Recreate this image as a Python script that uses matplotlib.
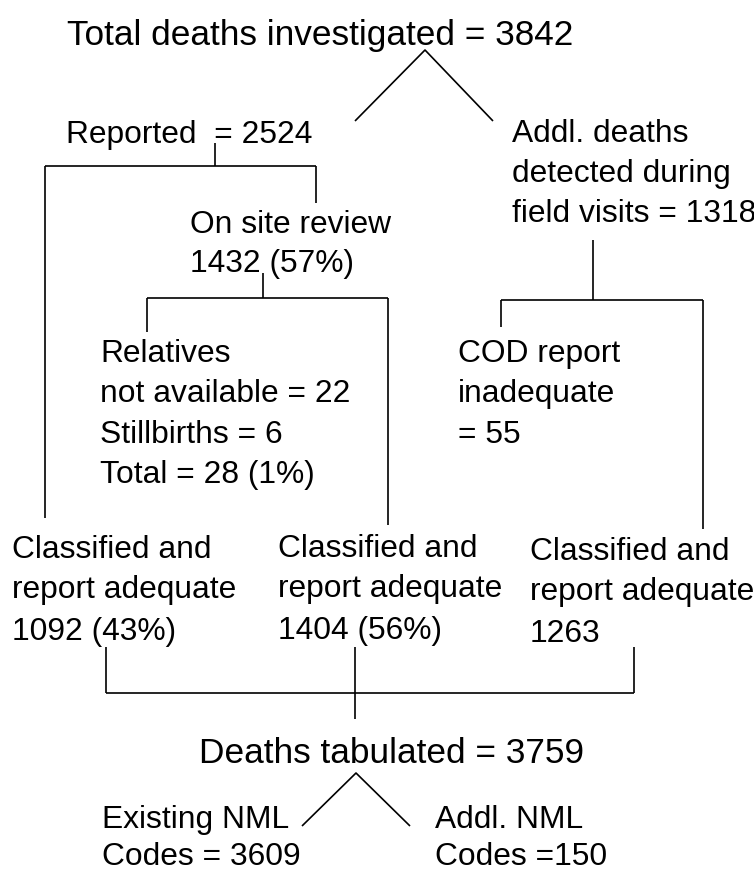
import matplotlib.pyplot as plt

plt.rcParams['font.family'] = ['Liberation Sans', 'DejaVu Sans']

# counts shown in the flow chart
total_investigated = 3842
reported = 2524
addl_detected = 1318
on_site = 1432
on_site_pct = 57
relatives_na = 22
stillbirths = 6
excluded = 28
excluded_pct = 1
cod_inadequate = 55
classified = [1092, 1404, 1263]
classified_pct = [43, 56, None]
tabulated = 3759
existing_codes = 3609
addl_codes = 150

fig = plt.figure(figsize=(7.54, 8.73), dpi=100)
ax = fig.add_axes([0, 0, 1, 1])
ax.set_xlim(0, 754)
ax.set_ylim(873, 0)
ax.axis('off')

big = 25.4
small = 22.9
lw = 1.2


def txt(x, y, s, size=small):
    ax.text(x, y, s, fontsize=size, va='baseline', ha='left', color='black')


def line(xs, ys):
    ax.plot(xs, ys, color='black', lw=lw, solid_capstyle='butt')


# top
txt(67, 45, f'Total deaths investigated = {total_investigated}', big)
line([355, 425, 493], [121, 50, 121])

txt(66, 143, f'Reported  = {reported}')
txt(512, 142, 'Addl. deaths')
txt(512, 182, 'detected during')
txt(512, 222, f'field visits = {addl_detected}')

# reported branch
line([215, 215], [143, 166])
line([45, 316], [166, 166])
line([316, 316], [166, 203])
line([45, 45], [166, 518])

txt(190, 233, 'On site review')
txt(190, 272, f'{on_site} ({on_site_pct}%)')
line([263, 263], [273, 298])
line([147, 388], [298, 298])
line([147, 147], [298, 332])
line([388, 388], [298, 525])

txt(100, 362, 'Relatives')
txt(100, 402, f'not available = {relatives_na}')
txt(100, 443, f'Stillbirths = {stillbirths}')
txt(100, 483, f'Total = {excluded} ({excluded_pct}%)')

# additional deaths branch
line([593, 593], [240, 300])
line([501, 703], [300, 300])
line([501, 501], [300, 327])
line([703, 703], [300, 529])

txt(458, 362, 'COD report')
txt(458, 402, 'inadequate')
txt(458, 443, f'= {cod_inadequate}')

# classified groups
cls_x = [12, 278, 530]
cls_dy = [0, -1, 2]
for x, dy, n, p in zip(cls_x, cls_dy, classified, classified_pct):
    txt(x, 558 + dy, 'Classified and')
    txt(x, 598 + dy, 'report adequate')
    txt(x, 640 + dy, f'{n} ({p}%)' if p is not None else f'{n}')

# bottom bracket
line([106, 106], [647, 693])
line([634, 634], [647, 693])
line([106, 634], [693, 693])
line([355, 355], [647, 719])

txt(199, 763, f'Deaths tabulated = {tabulated}', big)
line([302, 356, 410], [826, 773, 826])

txt(102, 828, 'Existing NML')
txt(102, 865, f'Codes = {existing_codes}')
txt(435, 828, 'Addl. NML')
txt(435, 865, f'Codes ={addl_codes}')

fig.savefig('out.png', dpi=100)
